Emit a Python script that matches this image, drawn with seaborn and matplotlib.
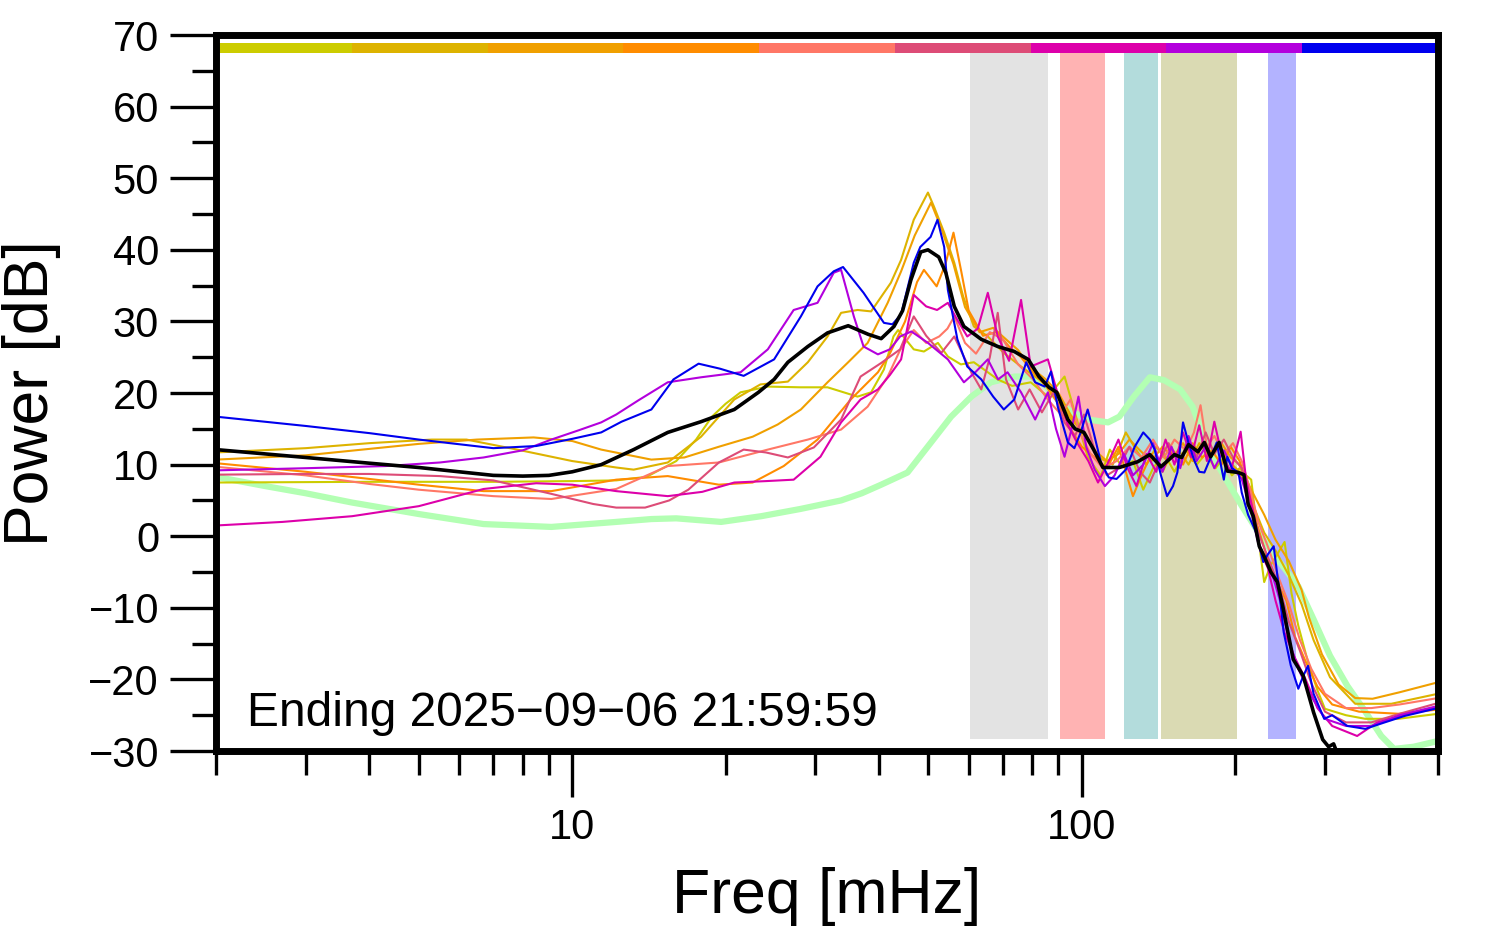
import numpy as np
import pandas as pd
import matplotlib
matplotlib.use("Agg")
import matplotlib.pyplot as plt
import matplotlib.ticker as mticker
import seaborn as sns

# ---------------- data ----------------
slot_names = ["s1", "s2", "s3", "s4", "s5", "s6", "s7", "s8", "s9"]
slot_colors = ["#CCCC00", "#DDB300", "#F0A000", "#FF8C00", "#FF7766",
               "#DD4C77", "#DD00AA", "#B300DD", "#0000EE"]

band_lo = [60.3, 90.6, 121.0, 143.2, 231.6]
band_hi = [85.8, 110.9, 141.3, 201.8, 263.4]
band_colors = ["#E3E3E3", "#FFB3B3", "#B3DCDC", "#DADAB3", "#B3B3FF"]

annotation = "Ending 2025\u221209\u221206 21:59:59"

f_s1 = [2, 4, 7, 10, 12.2, 14, 16, 17.5, 18.8, 20, 21.4, 24.2, 28, 31.7, 36.3, 38.6, 40.9, 42.7, 43.6, 46.8,
        49, 52.2, 54.6, 57.9, 61.4, 65.4, 68.4, 73, 79.4, 85.8, 92.5, 96.7, 102.7, 109, 113.5, 120, 126, 132,
        138, 145, 152, 160, 168, 175, 183, 190, 197, 204, 210, 215, 220, 228, 235, 250, 258, 266, 278, 290,
        300, 330, 360, 418, 500]
p_s1 = [7.5, 7.6, 7.6, 7.7, 7.8, 8.3, 10.5, 13.5, 16.7, 18.5, 20.1, 20.9, 20.8, 20.8, 19.5, 20.1, 23.3, 27.9,
        28.8, 26.1, 25.8, 27.0, 25.1, 24.0, 24.3, 22.9, 21.9, 21.0, 21.5, 19.5, 22.3, 17.5, 11.1, 8.4, 12.1,
        9.7, 10.5, 6.5, 9.5, 11.5, 9.0, 12.0, 10.0, 11.5, 9.5, 11.0, 8.5, 9.5, 8.5, 7.9, 2.0, -6.4, -4.0,
        -0.8, -8.0, -12.5, -17.6, -21.5, -24.1, -25.0, -25.5, -25.5, -24.8]

f_s2 = [2, 3, 4, 5.3, 6.2, 7.8, 10, 12.2, 13.2, 15.4, 17.9, 20.8, 23.4, 26.5, 29, 31.7, 33.7, 36.3, 38.6,
        42.2, 44.2, 46.8, 49.9, 51.3, 53.7, 56.2, 58.5, 61.4, 65.4, 70.3, 76, 82.4, 88.5, 95, 102, 108, 115,
        122, 128, 134, 140, 147, 155, 162, 170, 178, 186, 194, 204, 215, 228, 240, 255, 270, 285, 307, 344,
        405, 500]
p_s2 = [11.7, 12.3, 13.0, 13.5, 13.5, 12.1, 10.5, 9.6, 9.3, 10.3, 13.9, 19.1, 21.2, 21.6, 24.3, 27.9, 31.2,
        31.6, 31.4, 35.4, 38.6, 44.2, 48.0, 46.0, 42.4, 38.2, 33.5, 29.3, 27.9, 25.6, 23.7, 21.9, 20.1, 16.5,
        14.0, 11.0, 10.0, 14.5, 12.0, 10.0, 12.5, 10.5, 12.0, 10.0, 13.0, 11.0, 12.5, 10.5, 9.0, 5.0, 0.5,
        -2.0, -5.5, -9.5, -14.5, -19.7, -23.4, -23.4, -22.0]

f_s3 = [2, 3, 4, 5, 6.5, 8.4, 10, 11.4, 14.3, 16.6, 19.4, 22.6, 25.3, 28.1, 31.7, 34.8, 38, 41.6, 44.2, 47,
        50.6, 53, 56, 59, 63, 67, 71, 75, 79, 85, 90, 95, 100, 106, 112, 118, 124, 130, 137, 144, 151, 158,
        165, 172, 180, 188, 196, 204, 215, 228, 240, 255, 270, 279, 296, 319, 344, 372, 420, 500]
p_s3 = [10.7, 11.3, 12.2, 12.9, 13.5, 13.8, 13.3, 12.1, 10.7, 11.0, 12.5, 13.9, 15.6, 17.7, 21.5, 24.3, 27.0,
        32.6, 37.0, 42.0, 46.6, 43.0, 38.0, 32.0, 28.5, 29.1, 27.5, 26.0, 23.7, 21.9, 20.0, 17.0, 14.5, 12.0,
        10.5, 11.5, 13.5, 12.0, 10.5, 12.5, 11.0, 13.0, 10.5, 12.5, 11.5, 13.0, 11.0, 10.0, 6.5, 3.0, -0.5,
        -3.5, -7.5, -11.3, -16.5, -20.7, -22.6, -22.7, -21.8, -20.4]

f_s4 = [2, 3, 4, 5, 6.7, 9.1, 12.2, 15.4, 19.4, 22.6, 26, 30.3, 35.2, 39.8, 42, 45, 47.5, 49, 51.9, 54, 56,
        58, 60, 64, 68, 72, 76, 80, 85, 90, 95, 100, 106, 112, 118, 122, 126, 131, 137, 144, 151, 158, 165,
        172, 180, 188, 196, 204, 212, 220, 230, 240, 252, 262, 275, 290, 310, 350, 420, 500]
p_s4 = [10.2, 9.0, 8.0, 7.2, 6.3, 6.3, 7.9, 8.4, 7.2, 7.5, 9.8, 13.5, 19.1, 22.9, 25.5, 30.0, 35.5, 37.2,
        34.9, 38.0, 42.4, 37.0, 31.5, 28.0, 28.5, 26.5, 25.0, 23.0, 21.0, 18.5, 15.0, 12.5, 11.0, 9.5, 12.5,
        9.0, 5.6, 8.5, 11.5, 9.0, 12.0, 10.0, 13.0, 11.0, 12.0, 10.0, 12.5, 10.5, 7.0, 2.0, -2.5, -6.0, -9.0,
        -14.0, -17.5, -21.0, -23.5, -24.5, -24.8, -24.2]

f_s5 = [2, 3, 4, 5, 7, 9.1, 12.2, 15.4, 19.4, 24.2, 29, 33.7, 38, 41.6, 44, 46.8, 49.5, 52.5, 54.5, 56.2, 59,
        62, 66, 70, 75, 80, 86, 91, 95, 99, 104, 110, 117, 124, 131, 138, 145, 152, 160, 166, 171, 176, 182,
        190, 198, 206, 214, 222, 232, 244, 255, 268, 282, 300, 330, 370, 420, 500]
p_s5 = [9.7, 8.5, 7.3, 6.5, 5.6, 5.2, 6.6, 9.8, 10.3, 12.1, 13.5, 14.9, 18.1, 22.3, 26.0, 28.8, 27.0, 27.9,
        29.0, 30.7, 27.0, 25.5, 28.5, 27.5, 24.0, 22.0, 19.0, 17.0, 19.1, 14.5, 11.5, 9.5, 10.5, 12.5, 11.0,
        13.5, 11.0, 13.5, 12.0, 14.5, 18.3, 12.5, 14.0, 11.5, 13.0, 10.5, 6.5, 2.0, -1.5, -6.0, -9.5, -14.5,
        -18.5, -22.0, -24.0, -24.0, -23.5, -22.6]

f_s6 = [2, 3, 4, 5.5, 7, 9, 11, 12.2, 13.9, 15.5, 16.9, 19.4, 21.7, 24, 26.5, 29.8, 33.7, 36.8, 40.4, 44,
        46.8, 49.5, 53, 56.2, 60.7, 63.5, 66, 68.4, 71, 75, 79, 83.5, 88, 92.5, 97, 101, 106, 112, 118, 124,
        130, 136, 142, 148, 155, 162, 168, 175, 182, 190, 198, 206, 214, 222, 232, 244, 255, 268, 282, 300,
        330, 370, 420, 500]
p_s6 = [8.6, 8.7, 8.7, 8.4, 7.8, 6.0, 4.5, 4.0, 4.0, 5.0, 6.5, 10.3, 12.1, 11.7, 11.0, 12.4, 16.3, 22.3, 24.2,
        26.1, 30.7, 28.0, 25.6, 27.9, 22.9, 20.5, 25.0, 31.2, 21.9, 17.7, 20.5, 17.3, 20.1, 15.9, 14.0, 17.0,
        12.0, 8.5, 9.5, 12.5, 9.0, 7.5, 10.5, 13.0, 10.0, 13.5, 11.0, 14.5, 11.5, 13.5, 11.0, 9.5, 5.0, 0.5,
        -3.0, -7.0, -12.0, -16.0, -20.5, -24.5, -26.0, -26.0, -24.8, -23.3]

f_s7 = [2, 2.7, 3.7, 5, 6.7, 8.5, 10, 12.2, 15.4, 18, 20.8, 24, 27.2, 30.7, 33.7, 36.8, 39.8, 42, 44.2, 46.8,
        49.5, 52, 54.6, 57, 59.6, 62.5, 65.4, 68.4, 72, 76, 79.4, 85.8, 89.5, 94, 98, 103, 107.6, 113, 118,
        123, 128, 134, 140, 146, 152, 158, 164, 170, 176, 182, 188, 196, 205, 210, 216, 224, 232, 240, 250,
        262, 275, 290, 310, 347, 380, 430, 500]
p_s7 = [1.5, 2.0, 2.8, 4.2, 6.6, 7.4, 7.2, 6.3, 5.6, 6.2, 7.5, 7.7, 7.9, 11.1, 15.9, 19.1, 20.5, 22.5, 24.7,
        33.7, 32.1, 31.6, 32.6, 30.2, 27.9, 29.0, 34.0, 27.9, 24.5, 33.0, 23.7, 24.7, 20.1, 15.5, 13.0, 10.5,
        7.5, 10.5, 13.5, 9.5, 7.0, 11.5, 9.0, 13.5, 10.0, 14.5, 11.0, 15.5, 10.5, 16.0, 11.5, 9.0, 14.6, 8.0,
        4.0, -2.0, -4.5, -9.0, -13.5, -17.0, -20.0, -24.0, -26.5, -27.9, -26.0, -25.0, -23.8]

f_s8 = [2, 3, 4.3, 5.5, 6.7, 8, 9.1, 10.3, 11.4, 12.2, 13.5, 15.4, 17.9, 21.4, 24.2, 27.2, 30.3, 32.6, 33.7,
        35.7, 37.3, 39.8, 42, 44, 46.3, 49.9, 54.6, 58.7, 62, 65.4, 68.5, 71.5, 76, 81, 85.8, 89, 92.5, 95.5,
        98.5, 102, 106, 111, 116, 121, 126, 132, 138, 144, 150, 156, 162, 168, 175, 182, 190, 198, 206, 214,
        222, 230, 238, 246, 256, 266, 280, 300, 330, 370, 420, 500]
p_s8 = [9.2, 9.5, 9.8, 10.3, 11.0, 12.0, 13.5, 14.8, 15.9, 17.0, 19.0, 21.5, 22.2, 22.9, 26.1, 31.6, 32.6,
        36.8, 37.2, 30.7, 26.5, 25.4, 26.1, 27.9, 28.6, 27.0, 24.7, 21.5, 23.0, 24.7, 21.9, 22.9, 20.1, 16.3,
        20.1, 15.0, 11.1, 15.0, 19.5, 12.5, 9.3, 7.0, 8.5, 11.5, 8.5, 10.0, 13.0, 9.0, 12.5, 9.5, 14.0, 10.5,
        12.5, 9.5, 12.0, 9.5, 8.0, 4.0, -1.0, -3.5, -6.0, -9.5, -15.0, -18.5, -22.0, -25.5, -26.5, -26.5,
        -25.0, -23.7]

f_s9 = [2, 3, 4, 5, 7, 8.5, 10, 11.4, 12.5, 14.3, 15.8, 17.7, 19.5, 21.7, 24.9, 28.1, 30.3, 32.6, 34, 37.3,
        40.9, 42.5, 44.2, 46.8, 48.2, 50.5, 52.1, 53.7, 54.6, 57, 59.6, 63.5, 67, 70.3, 73.7, 77.8, 81, 84.6,
        87, 89.7, 93.9, 96.7, 99.5, 102.7, 105.5, 109, 113, 117, 122, 127, 132, 136, 139, 143, 147, 151, 154,
        158, 162, 166, 170, 174, 179, 184, 188, 190, 193, 197, 203, 206, 212, 220, 227, 232, 238, 243, 249,
        257, 266, 272, 278, 285, 299, 310, 332, 360, 393, 430, 500]
p_s9 = [16.7, 15.4, 14.4, 13.5, 12.3, 12.6, 13.6, 14.5, 16.0, 17.7, 21.9, 24.1, 23.4, 22.4, 24.7, 30.7, 34.9,
        37.0, 37.6, 34.0, 29.8, 29.6, 31.0, 38.2, 40.4, 41.8, 44.2, 40.4, 34.4, 27.5, 23.7, 21.9, 19.5, 17.7,
        19.1, 24.3, 21.5, 20.9, 23.0, 18.1, 13.1, 12.3, 14.5, 17.7, 14.5, 10.3, 8.2, 8.0, 9.3, 12.5, 14.5,
        13.5, 12.1, 8.5, 5.6, 7.0, 8.9, 15.9, 13.0, 10.7, 9.0, 8.9, 11.0, 13.1, 9.5, 7.9, 11.1, 9.5, 8.9, 6.1,
        3.0, 0.5, -3.6, -2.5, -1.4, -6.5, -13.4, -18.0, -21.3, -19.5, -18.1, -22.0, -25.5, -25.0, -26.5,
        -26.9, -26.0, -25.1, -24.0]

f_mean = [2, 3, 4, 5, 6, 7, 8, 9, 10, 11.4, 13.2, 15.4, 17.9, 20.8, 23.2, 24.9, 26.5, 29, 31.7, 34.8, 38.1,
          40.4, 42.8, 44.5, 46.2, 48.3, 49.9, 52.4, 54.1, 56.2, 58.7, 63.5, 68.4, 73.7, 78.5, 82.4, 86.2, 89.3,
          93.9, 97, 101, 105.5, 110, 118.5, 128.7, 136, 143, 152, 157, 162, 169, 174, 179, 186, 193, 203, 208,
          212, 217, 223, 228, 235, 242, 248, 260, 272, 285, 297, 305, 312, 320]
p_mean = [12.1, 11.0, 10.2, 9.6, 9.0, 8.5, 8.4, 8.5, 9.0, 10.0, 12.1, 14.5, 16.0, 17.7, 20.1, 21.9, 24.3, 26.5,
          28.4, 29.4, 28.2, 27.6, 29.3, 31.5, 35.8, 39.7, 40.0, 39.0, 36.8, 32.1, 29.3, 27.5, 26.5, 25.8, 24.7,
          22.3, 20.8, 20.1, 16.3, 15.0, 14.5, 12.1, 9.6, 9.6, 10.4, 11.4, 9.7, 11.4, 11.0, 12.8, 11.8, 13.1,
          11.1, 13.1, 9.1, 8.9, 8.6, 4.5, 2.8, -1.4, -2.8, -5.0, -6.4, -9.8, -17.2, -19.5, -24.6, -28.4,
          -29.4, -29.0, -31.0]

f_ref = [2, 2.5, 3, 3.7, 5, 6.7, 9.1, 12.2, 14.3, 16, 19.6, 23.5, 28, 33.7, 37, 40.4, 45.5, 50.6, 55.4, 60.7,
         66.3, 73.7, 79.4, 85, 90, 94, 102.7, 112.6, 118.5, 126.5, 136, 145, 156, 165, 176, 190, 205, 220,
         235, 250, 266, 285, 307, 332, 357, 387, 410, 448, 500]
p_ref = [8.3, 7.0, 6.0, 4.7, 3.1, 1.7, 1.3, 2.0, 2.4, 2.5, 2.0, 2.8, 3.8, 5.0, 6.0, 7.2, 8.9, 13.1, 16.7, 19.5,
         21.5, 22.3, 22.3, 21.0, 19.0, 17.7, 16.3, 15.9, 16.7, 19.5, 22.2, 21.8, 20.5, 18.1, 12.5, 8.5, 4.5,
         1.0, -2.0, -4.5, -7.0, -11.6, -16.7, -20.9, -24.1, -27.9, -29.7, -29.4, -28.6]

slot_freqs = [f_s1, f_s2, f_s3, f_s4, f_s5, f_s6, f_s7, f_s8, f_s9]
slot_powers = [p_s1, p_s2, p_s3, p_s4, p_s5, p_s6, p_s7, p_s8, p_s9]

df_slots = pd.concat(
    [pd.DataFrame({"freq": fr, "power": pw, "slot": nm})
     for nm, fr, pw in zip(slot_names, slot_freqs, slot_powers)],
    ignore_index=True)
df_mean = pd.DataFrame({"freq": f_mean, "power": p_mean})
df_ref = pd.DataFrame({"freq": f_ref, "power": p_ref})

# ---------------- style ----------------
sns.set_style("white")
plt.rcParams["font.family"] = ["Liberation Sans", "DejaVu Sans"]
plt.rcParams["text.color"] = "black"
plt.rcParams["axes.labelcolor"] = "black"
plt.rcParams["xtick.color"] = "black"
plt.rcParams["ytick.color"] = "black"

fig = plt.figure(figsize=(14.94, 9.52), dpi=100)
ax = fig.add_axes([0.1446, 0.2111, 0.8179, 0.7521])
ax.set_xscale("log")

for lo, hi, c in zip(band_lo, band_hi, band_colors):
    ax.axvspan(lo, hi, ymin=0.0167, ymax=0.9745, color=c, lw=0, zorder=0.5)

sns.lineplot(data=df_ref, x="freq", y="power", color="#B3FFB3", linewidth=4.5,
             estimator=None, sort=False, ax=ax, zorder=1)
sns.lineplot(data=df_slots, x="freq", y="power", hue="slot",
             palette=dict(zip(slot_names, slot_colors)), linewidth=1.5,
             estimator=None, sort=False, legend=False, ax=ax, zorder=2)
sns.lineplot(data=df_mean, x="freq", y="power", color="black", linewidth=2.6,
             estimator=None, sort=False, ax=ax, zorder=3)

for i, c in enumerate(slot_colors):
    ax.axhline(68.15, xmin=i / 9, xmax=(i + 1) / 9, color=c, lw=7.2,
               solid_capstyle="butt", zorder=4)

ax.set_xlim(2, 500)
ax.set_ylim(-30, 70)

ax.yaxis.set_major_locator(mticker.MultipleLocator(10))
ax.yaxis.set_minor_locator(mticker.MultipleLocator(5))
ax.xaxis.set_major_locator(mticker.LogLocator(base=10))
ax.xaxis.set_minor_locator(mticker.LogLocator(base=10, subs=np.arange(2, 10)))
ax.xaxis.set_major_formatter(mticker.FuncFormatter(lambda v, p: f"{v:g}"))
ax.xaxis.set_minor_formatter(mticker.NullFormatter())

ax.tick_params(axis="both", which="major", direction="out", length=33, width=2.4,
               labelsize=30, pad=8, colors="black", bottom=True, left=True, top=False, right=False)
ax.tick_params(axis="both", which="minor", direction="out", length=17, width=2.4,
               colors="black", bottom=True, left=True, top=False, right=False)

for s in ax.spines.values():
    s.set_linewidth(5)
    s.set_color("black")
    s.set_zorder(10)

ax.set_xlabel("Freq [mHz]", fontsize=45, labelpad=14, color="black")
ax.set_ylabel("Power [dB]", fontsize=45, labelpad=20, color="black")

ax.text(0.025, 0.035, annotation, transform=ax.transAxes, fontsize=34.5,
        ha="left", va="baseline", zorder=5, color="black")

fig.savefig("out.png", dpi=100)
